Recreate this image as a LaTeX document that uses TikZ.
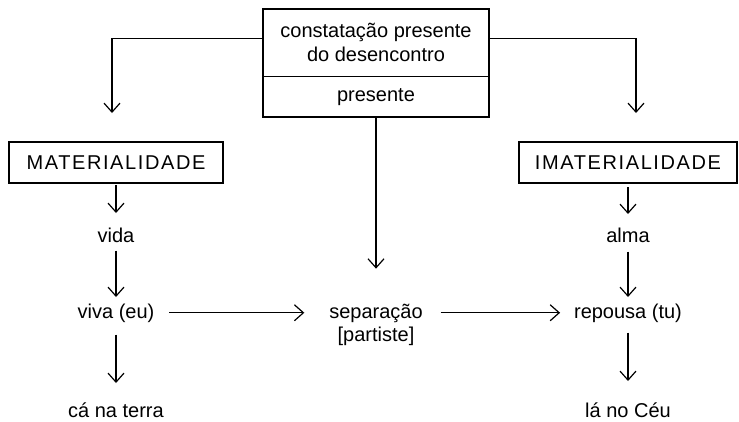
\documentclass[tikz,border=0pt]{standalone}
\usepackage{fontspec}
\setmainfont{Liberation Sans}
\newfontfamily\capsfont[LetterSpace=8]{Liberation Sans}
\usetikzlibrary{positioning,arrows.meta}

\tikzset{
  caixa/.style={rectangle, draw, line width=1.4pt, inner sep=0pt, outer sep=0pt, align=center},
  titulo/.style={caixa, font=\fontsize{20}{24}\capsfont, minimum height=41pt},
  rotulo/.style={inner sep=0pt, outer sep=0pt, text height=15pt, text depth=4.5pt},
}

\begin{document}
\begin{tikzpicture}[x=1pt, y=-1pt, font=\fontsize{20}{24}\selectfont, line width=1.2pt,
  >={Straight Barb[length=9pt,width=16pt]}]
\useasboundingbox (0,0) rectangle (739,421);
%% Nodes definition
\node[caixa, minimum width=226pt, minimum height=67.5pt] (constat) at (376,42.75) {constatação presente\\do desencontro};
\node[caixa, minimum width=226pt, minimum height=40.5pt, below=0pt of constat] (pres) {presente};
\node[titulo, minimum width=214pt] (mat) at (116,162.5) {MATERIALIDADE};
\node[titulo, minimum width=218pt] (imat) at (628,162.5) {IMATERIALIDADE};
\node[rotulo, below=44pt of mat] (vida) {vida};
\node[rotulo, below=56.5pt of vida] (viva) {viva (eu)};
\node[rotulo, below=79.5pt of viva] (terra) {cá na terra};
\node[rotulo, below=44pt of imat] (alma) {alma};
\node[rotulo, below=56.5pt of alma] (repousa) {repousa (tu)};
\node[rotulo, below=79.5pt of repousa] (ceu) {lá no Céu};
\node[inner sep=0pt, outer sep=0pt, align=center, font=\fontsize{20}{23}\selectfont, anchor=base, yshift=-23pt] (sep) at (pres.south |- viva.base) {separação\\{[partiste]}};
\coordinate (lend) at (112,113);
\coordinate (rend) at (636,113);

%% Edges definition
\draw[->] ([yshift=4pt]constat.west) -| (lend);
\draw[->] ([yshift=4pt]constat.east) -| (rend);
\path[every edge/.append style={->}]
    (mat) edge [shorten <=2pt, shorten >=14pt] (vida)
    (vida) edge [shorten <=4pt, shorten >=6pt] (viva)
    (viva) edge [shorten <=12pt, shorten >=19pt] (terra)
    (imat) edge [shorten <=4pt, shorten >=13pt] (alma)
    (alma) edge [shorten <=5pt, shorten >=6pt] (repousa)
    (repousa) edge [shorten <=10pt, shorten >=21pt] (ceu)
    (pres) edge [shorten >=35pt] (sep)
    (viva) edge [shorten <=15pt, shorten >=25pt] (viva -| sep.west)
    (sep.east |- repousa) edge [shorten <=18pt, shorten >=14pt] (repousa)
    ;
\end{tikzpicture}
\end{document}
